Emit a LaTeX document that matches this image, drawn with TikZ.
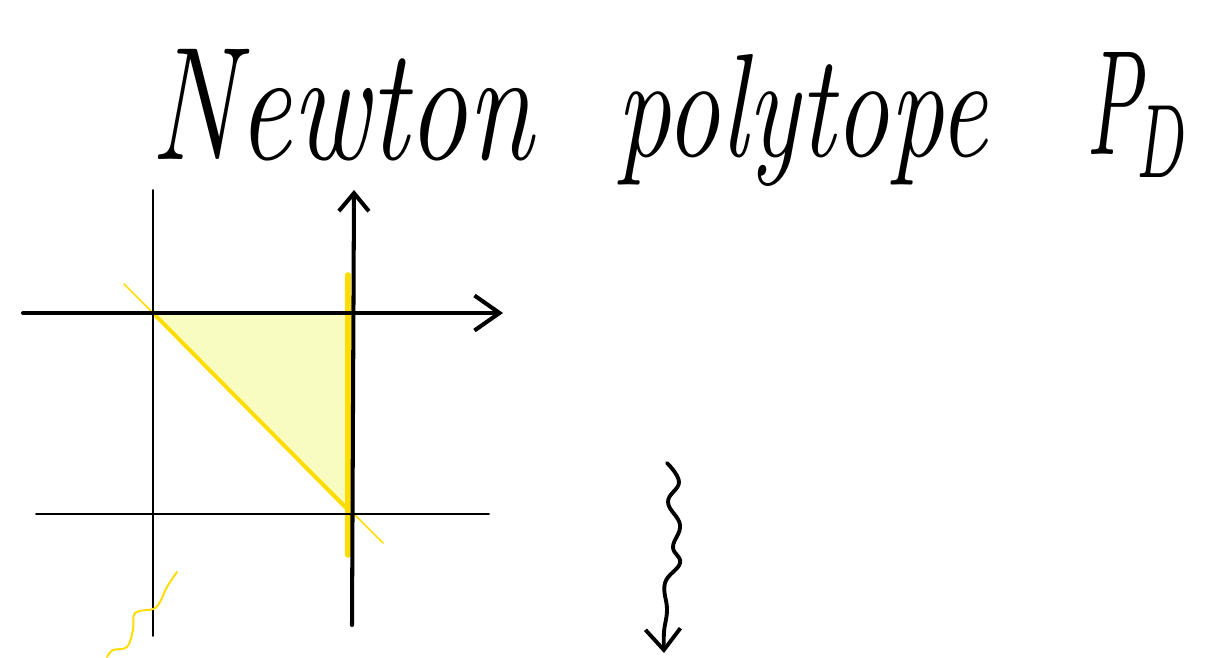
\documentclass[tikz,border=0pt]{standalone}
\usetikzlibrary{arrows.meta}
\definecolor{penyellow}{RGB}{255,221,0}
\definecolor{fillyellow}{RGB}{248,252,192}

\begin{document}
\begin{tikzpicture}[x=0.02cm,y=-0.02cm,line cap=round,line join=round]
\useasboundingbox (0,0) rectangle (1209,658);
% title
\node[font=\fontsize{68}{68}\selectfont\itshape,anchor=base] (newton) at (342,160) {\scalebox{1}[1.35]{Newton}};
\node[font=\fontsize{62}{62}\selectfont\itshape,anchor=base] (polytope) at (802,157) {\scalebox{1}[1.35]{polytope}};
\node[anchor=base] (pd) at (1140,155) {\scalebox{4.3}[8.5]{$P_{D}$}};

% corner points of the lattice
\coordinate (a) at (153,313);
\coordinate (b) at (352,313);
\coordinate (c) at (352,514);
\coordinate (d) at (153,514);

% Newton polygon
\fill[fillyellow] (a) -- (348,313) -- (348,510) -- cycle;
\draw[penyellow,line width=1pt] (124,284) -- (383,543);
\draw[penyellow,line width=2.2pt] (a) -- (348,510);
\draw[penyellow,line width=3.2pt] (348,275) -- (348,555);

% grid lines
\draw[line width=1.1pt] (153,190) -- (153,636);
\draw[line width=1.1pt] (36,514) -- (489,514);

% axes
\draw[line width=2.3pt,-{Straight Barb[length=5mm,width=7mm]}] (23,313) -- (503,313);
\draw[line width=2.3pt,-{Straight Barb[length=3.6mm,width=6mm]}] (352,625) -- (354,190);

% yellow squiggle
\draw[penyellow,line width=1.1pt] plot[smooth,tension=0.6] coordinates
  {(107,657) (113,650) (127,647) (133,630) (135,613) (153,609) (160,602) (167,587) (177,572)};

% wavy arrow down
\draw[line width=2.2pt,-{Straight Barb[length=4.2mm,width=7mm]}] plot[smooth,tension=0.7] coordinates
  {(667,463) (679,482) (668,502) (680,525) (673,547) (680,563) (665,583) (667,610) (664,632) (664,653)};
\end{tikzpicture}
\end{document}
